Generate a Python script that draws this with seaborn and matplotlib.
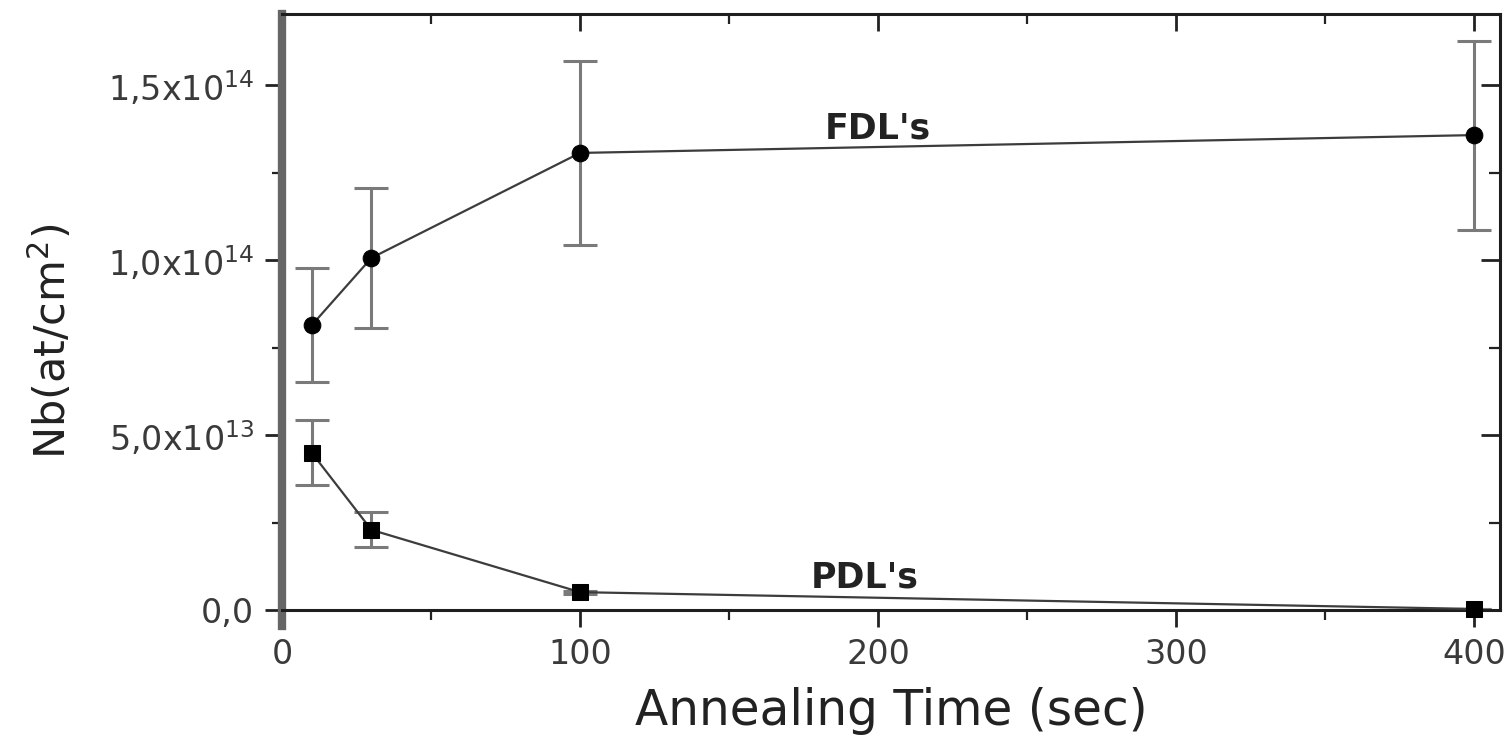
import matplotlib
matplotlib.use("Agg")
import matplotlib.pyplot as plt
import seaborn as sns
import pandas as pd
from matplotlib.ticker import FixedLocator, MultipleLocator

# Annealing times (sec)
time_s = [10, 30, 100, 400]

# Full dislocation loops (FDL's): areal density and uncertainty (at/cm^2)
fdl_density = [0.814e14, 1.006e14, 1.306e14, 1.357e14]
fdl_error = [0.163e14, 0.200e14, 0.263e14, 0.270e14]

# Perfect dislocation loops (PDL's)
pdl_density = [0.449e14, 0.229e14, 0.051e14, 0.003e14]
pdl_error = [0.093e14, 0.050e14, 0.004e14, 0.0]

y_tick_values = [0.0, 0.5e14, 1.0e14, 1.5e14]
y_tick_labels = ["0,0", r"5,0x10$^{13}$", r"1,0x10$^{14}$", r"1,5x10$^{14}$"]
x_tick_values = [0, 100, 200, 300, 400]
x_tick_labels = ["0", "100", "200", "300", "400"]

sns.set_style("ticks")
plt.rcParams["font.family"] = ["DejaVu Sans"]
plt.rcParams["mathtext.default"] = "regular"

df = pd.concat([
    pd.DataFrame({"t": time_s, "nb": fdl_density, "err": fdl_error, "kind": "FDL's"}),
    pd.DataFrame({"t": time_s, "nb": pdl_density, "err": pdl_error, "kind": "PDL's"}),
])

fig = plt.figure(figsize=(15.12, 7.38), dpi=100)
ax = fig.add_axes([282 / 1512, 128 / 738, 1218 / 1512, 596 / 738])

line_col = "#3c3c3c"
err_col = "#7a7a7a"

for kind, marker, ms in [("FDL's", "o", 12), ("PDL's", "s", 11)]:
    sub = df[df["kind"] == kind]
    ax.errorbar(sub["t"], sub["nb"], yerr=sub["err"], fmt="none",
                ecolor=err_col, elinewidth=2.2, capsize=12, capthick=2.2,
                zorder=2, clip_on=False)
    sns.lineplot(data=sub, x="t", y="nb", ax=ax, color=line_col,
                 linewidth=1.6, marker=marker, markersize=ms,
                 markerfacecolor="black", markeredgecolor="black",
                 zorder=3, clip_on=False, legend=False)

ax.set_xlim(0, 408.7)
ax.set_ylim(0, 1.703e14)

ax.xaxis.set_major_locator(FixedLocator(x_tick_values))
ax.set_xticklabels(x_tick_labels)
ax.xaxis.set_minor_locator(MultipleLocator(50))
ax.yaxis.set_major_locator(FixedLocator(y_tick_values))
ax.set_yticklabels(y_tick_labels)
ax.yaxis.set_minor_locator(MultipleLocator(0.25e14))

tick_col = "#3a3a3a"
ax.tick_params(axis="both", which="major", direction="out", length=12,
               width=2, color="#222222", labelsize=24, labelcolor=tick_col,
               pad=8)
ax.tick_params(axis="both", which="minor", direction="out", length=7,
               width=1.6, color="#222222")

for side in ["top", "right", "bottom"]:
    ax.spines[side].set_visible(True)
    ax.spines[side].set_linewidth(2.2)
    ax.spines[side].set_color("#1e1e1e")
ax.spines["left"].set_linewidth(6)
ax.spines["left"].set_color("#666666")
# left frame edge runs a little past the bottom edge
ax.spines["left"].set_bounds(-0.045e14, 1.703e14)

# Inward ticks along the top and right frame edges
top = ax.secondary_xaxis("top")
top.xaxis.set_major_locator(FixedLocator(x_tick_values))
top.xaxis.set_minor_locator(MultipleLocator(50))
top.tick_params(which="major", direction="in", length=12, width=2,
                color="#222222", labeltop=False)
top.tick_params(which="minor", direction="in", length=7, width=1.6,
                color="#222222")
top.spines["top"].set_visible(False)

right = ax.secondary_yaxis("right")
right.yaxis.set_major_locator(FixedLocator(y_tick_values))
right.yaxis.set_minor_locator(MultipleLocator(0.25e14))
right.tick_params(which="major", direction="in", length=14, width=2,
                  color="#222222", labelright=False)
right.tick_params(which="minor", direction="in", length=8, width=1.6,
                  color="#222222")
right.spines["right"].set_visible(False)

ax.set_xlabel("Annealing Time (sec)", fontsize=35, color="#222222")
ax.xaxis.set_label_coords(0.5, -0.13)
ax.set_ylabel(r"Nb(at/cm$^{2}$)", fontsize=31, color="#222222")
ax.yaxis.set_label_coords(-0.17, 0.45)

ax.text(200, 1.377e14, "FDL's", fontsize=25, fontweight="bold",
        color="#222222", ha="center", va="center")
ax.text(195.6, 0.094e14, "PDL's", fontsize=25, fontweight="bold",
        color="#222222", ha="center", va="center")

fig.savefig("out.png", dpi=100, facecolor="white")
